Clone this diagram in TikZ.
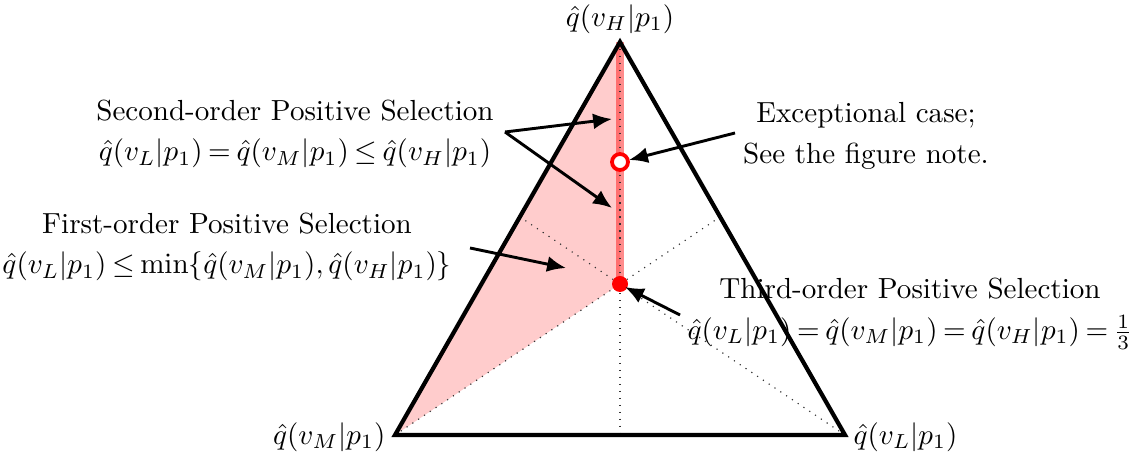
\documentclass[tikz,border=0pt]{standalone}
\usetikzlibrary{arrows.meta}
\thickmuskip=3.5mu plus 2mu\relax
\medmuskip=3mu plus 1mu minus 2mu\relax
\begin{document}
\begin{tikzpicture}[x=0.344pt,y=-0.344pt,
  tri/.style={line width=1.45pt,line join=miter},
  guide/.style={dotted,line width=0.4pt,black!80},
  pointer/.style={line width=1pt,-{Latex[length=6.5pt,width=5.5pt]}},
  lbl/.style={inner sep=0pt,align=center,font=\normalsize}]
\useasboundingbox (0,0) rectangle (1133,455);
% vertices and points
\coordinate (T) at (620,42);
\coordinate (BL) at (395,435);
\coordinate (BR) at (845,435);
\coordinate (P) at (620,284);
\coordinate (E) at (620,162);
\coordinate (Rm) at (720,217);
\coordinate (Lm) at (520,217);
\coordinate (Bm) at (620,435);
% shaded region
\fill[red!20] (T) -- (BL) -- (P) -- cycle;
\draw[red,opacity=0.45,line width=2.8pt] (T) -- (P);
% dotted guides
\draw[guide] (T) -- (Bm);
\draw[guide] (BL) -- (Rm);
\draw[guide] (BR) -- (Lm);
% labels
\node[lbl] (lH) at (620,19) {$\hat{q}(v_H|p_1)$};
\node[lbl,anchor=east] (lM) at (386,437) {$\hat{q}(v_M|p_1)$};
\node[lbl,anchor=west] (lL) at (853,437) {$\hat{q}(v_L|p_1)$};
\node[lbl] (sec) at (295,134) {Second-order Positive Selection\\[2pt] $\hat{q}(v_L|p_1)=\hat{q}(v_M|p_1)\leq\hat{q}(v_H|p_1)$};
\node[lbl] (exc) at (866,136) {Exceptional case;\\[2pt] See the figure note.};
\node[lbl] (fir) at (227,247) {First-order Positive Selection\\[2pt] $\hat{q}(v_L|p_1)\leq\min\{\hat{q}(v_M|p_1),\hat{q}(v_H|p_1)\}$};
\node[lbl] (thi) at (910,314) {Third-order Positive Selection\\[2pt] $\hat{q}(v_L|p_1)=\hat{q}(v_M|p_1)=\hat{q}(v_H|p_1)=\frac{1}{3}$};
% triangle
\draw[tri] (T) -- (BL) -- (BR) -- cycle;
% points
\draw[red,line width=1.3pt,fill=white] (E) circle[radius=8];
\fill[red] (P) circle[radius=8];
% arrows
\coordinate (s0) at (505,132);
\coordinate (s1) at (612,119);
\coordinate (s2) at (612,208);
\coordinate (e0) at (735,133);
\coordinate (e1) at (629,160);
\coordinate (f0) at (470,248);
\coordinate (f1) at (566,268);
\coordinate (t0) at (680,315);
\coordinate (t1) at (625,287);
\draw[pointer] (s0) -- (s1);
\draw[pointer] (s0) -- (s2);
\draw[pointer] (e0) -- (e1);
\draw[pointer] (f0) -- (f1);
\draw[pointer] (t0) -- (t1);
\end{tikzpicture}
\end{document}
